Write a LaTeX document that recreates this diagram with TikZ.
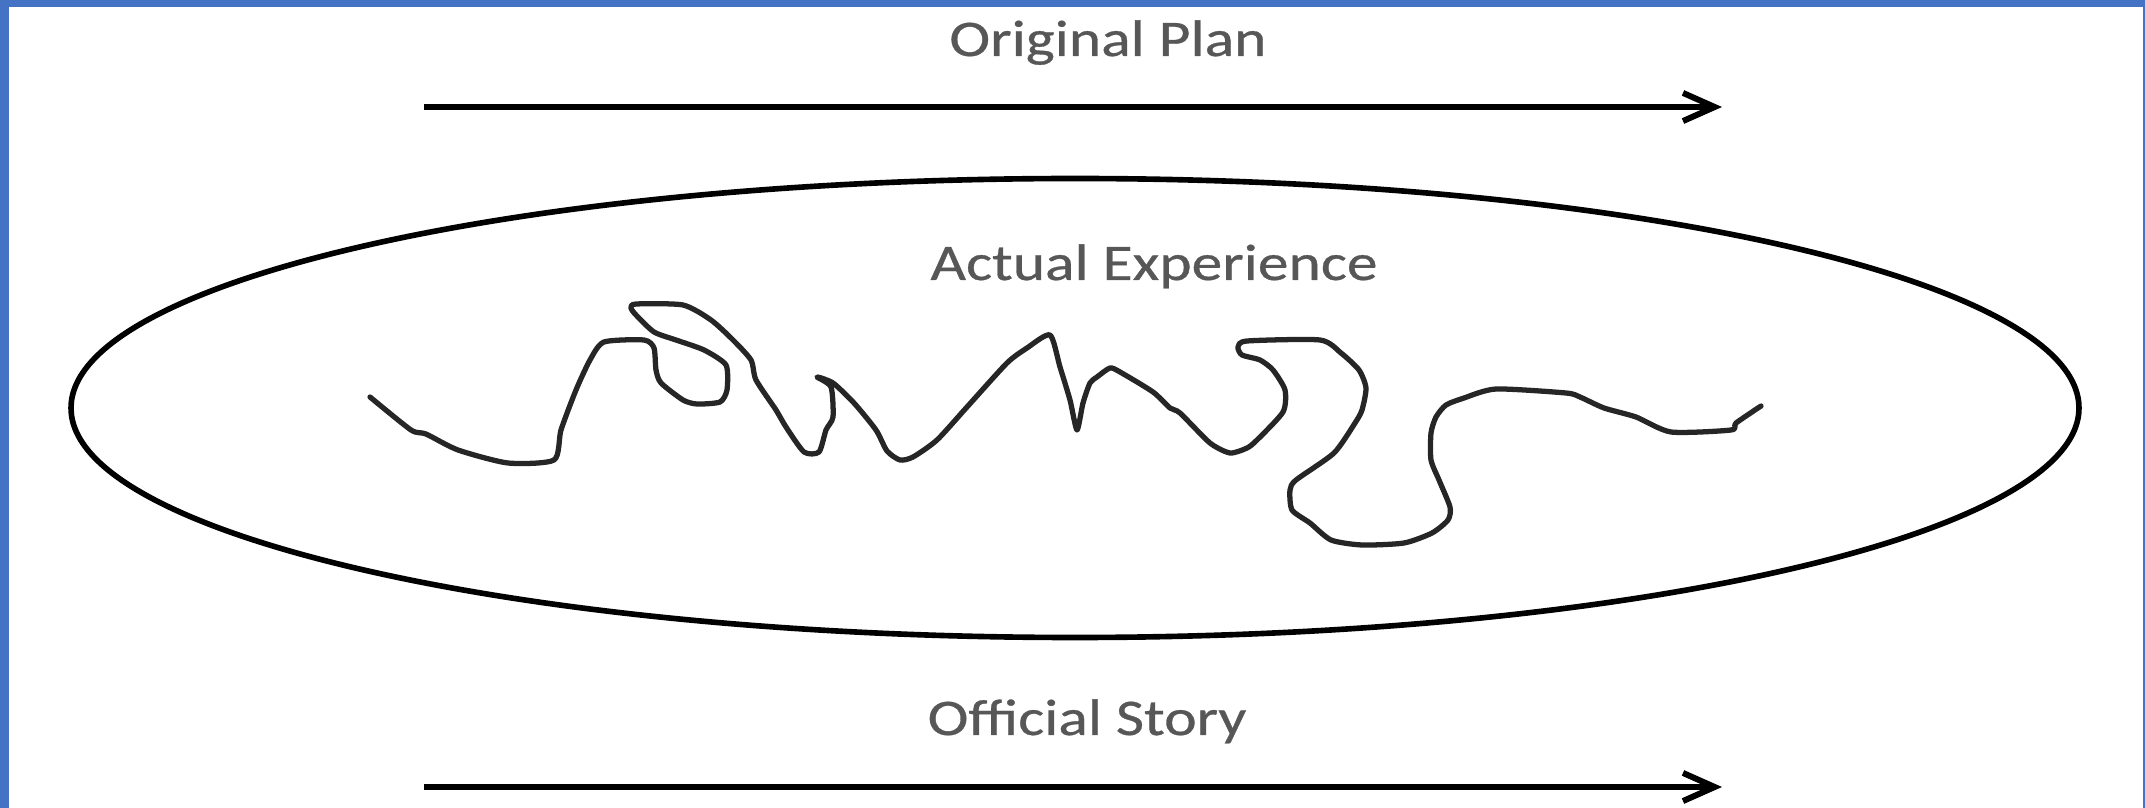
\documentclass[tikz,border=0pt]{standalone}
\usepackage{fontspec}
\setmainfont{Carlito}[FakeStretch=1.2,FakeBold=0.6]
\usetikzlibrary{arrows.meta,shapes.geometric}
\definecolor{frameblue}{HTML}{4472C4}
\definecolor{labelgray}{HTML}{575757}

\begin{document}
\begin{tikzpicture}[
  x=0.1mm,y=-0.1mm,
  label/.style={text=labelgray,font=\fontsize{14.6}{17}\selectfont,inner sep=0pt,anchor=base},
  arrow/.style={-{Straight Barb[length=9pt,width=8pt]},line width=1.7pt},
  squiggle/.style={line width=1.5pt,draw=black!85,line join=round,line cap=round}
]
\useasboundingbox (0,0) rectangle (2145,808);
% blue frame
\fill[frameblue] (0,0) rectangle (2145,7);
\fill[frameblue] (0,0) rectangle (9,808);
\fill[frameblue] (2143,0) rectangle (2145,808);

\node[label] (plan) at (1108,56) {Original Plan};
\node[draw,ellipse,line width=1.6pt,inner sep=0pt,minimum width=200.8mm,minimum height=45.9mm] (experience) at (1075,408) {};
\node[label] (actual) at (1154,280) {Actual Experience};
\node[label] (story) at (1087,735) {Official Story};

\coordinate (planA) at (424,107);
\coordinate (planB) at (1722,107);
\coordinate (storyA) at (424,787);
\coordinate (storyB) at (1722,787);
\draw[arrow] (planA) -- (planB);
\draw[arrow] (storyA) -- (storyB);

% the actual path
\draw[squiggle] plot[smooth,tension=0.4] coordinates {
  (370,397) (411,430) (426,434) (458,450) (508,463) (554,460) (561,430)
  (576,390) (590,360) (604,342) (644,340) (654,348) (656,370) (661,383)
  (683,400) (697,404) (720,402) (727,390) (726,365) (704,350) (676,340)
  (654,332) (636,315) (631,308) (636,304) (683,305) (711,320) (733,340)
  (751,360) (756,380) (776,410) (786,427) (804,452) (819,452) (826,430)
  (833,417) (831,387) (817,377) (833,383) (854,403) (876,430) (887,451)
  (900,460) (913,457) (937,440) (967,407) (1007,363) (1027,348) (1050,335)
  (1060,367) (1070,400) (1077,430) (1083,403) (1090,383) (1097,377)
  (1110,368) (1120,372) (1153,392) (1170,408) (1180,413) (1210,443)
  (1230,453) (1247,448) (1257,440) (1283,412) (1285,390) (1273,370)
  (1260,360) (1242,355) (1238,347) (1247,341) (1320,340) (1341,353)
  (1359,370) (1366,388) (1362,410) (1355,423) (1334,453) (1296,480)
  (1290,490) (1292,510) (1310,523) (1331,540) (1362,545) (1404,543)
  (1432,533) (1448,520) (1450,507) (1439,480) (1431,460) (1431,433)
  (1436,417) (1446,405) (1464,398) (1496,389) (1566,393) (1580,397)
  (1604,408) (1636,417) (1671,432) (1731,430) (1736,423) (1761,406)};
\end{tikzpicture}
\end{document}
